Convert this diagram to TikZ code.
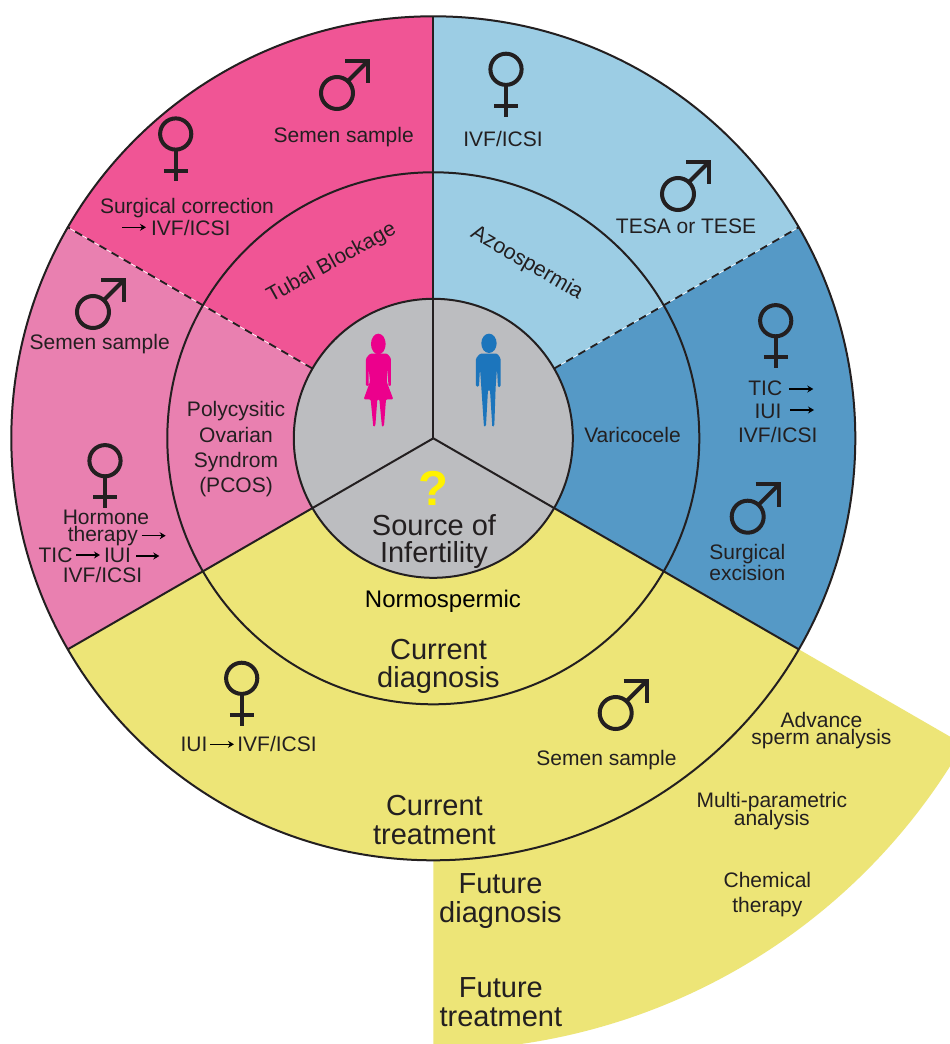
\documentclass[tikz,border=0pt]{standalone}
\usepackage{fontspec}
\setmainfont{Liberation Sans}
\usetikzlibrary{arrows.meta}
\definecolor{ink}{HTML}{231F20}
\definecolor{hotpink}{HTML}{F05595}
\definecolor{softpink}{HTML}{E980B0}
\definecolor{paleblue}{HTML}{9CCDE4}
\definecolor{midblue}{HTML}{5599C6}
\definecolor{sand}{HTML}{EDE577}
\definecolor{core}{HTML}{BCBDC0}
\definecolor{qmark}{HTML}{FFF200}
\definecolor{womanc}{HTML}{EC008C}
\definecolor{manc}{HTML}{1C75BC}
\newcommand{\fs}[2]{\fontsize{#1}{#2}\selectfont\lineskiplimit=-100pt\relax}
\newcommand{\txtarrow}[4]{\coordinate (#1s) at (#2,#4);\coordinate (#1e) at (#3,#4);\draw[textarrow] (#1s) -- (#1e);}
\tikzset{
  ring/.style={draw=ink,line width=2pt},
  divider/.style={draw=ink,line width=2pt},
  dashline/.style={draw=ink,line width=1.8pt,dash pattern=on 8pt off 6pt},
  dashglow/.style={draw=white,line width=.7pt},
  lab/.style={font=\fs{21}{25},text=ink,inner sep=0pt,anchor=base,align=center},
  big/.style={font=\fs{29}{28.4},text=ink,inner sep=0pt,anchor=base,align=center},
  textarrow/.style={draw=black,line width=1.5pt,-{Stealth[length=6pt,width=7pt,inset=2pt]}},
  femalesym/.pic={
    \draw[ink,line width=4pt] (0,0) circle[radius=15.6pt];
    \draw[ink,line width=4pt] (0,15.6) -- (0,47.4) (-11.8,36.7) -- (11.8,36.7);
  },
  malesym/.pic={
    \draw[ink,line width=4pt] (0,0) circle[radius=16pt];
    \draw[ink,line width=4pt] (11,-12) -- (31,-32);
    \draw[ink,line width=4pt,miter limit=10] (8,-32.3) -- (31.2,-32.3) -- (31.2,-10);
  }
}
\begin{document}
\begin{tikzpicture}[x=1pt,y=-1pt]
\clip (0,0) rectangle (950,1044);
\fill[white] (0,0) rectangle (950,1044);
\coordinate (mid) at (433.3,438.3);
% sectors
\begin{scope}[shift={(mid)},x=1pt,y=1pt]
  \fill[sand] (0,0) -- (-30:612) arc[start angle=-30,end angle=-90,radius=612] -- cycle;
  \fill[paleblue] (0,0) -- (90:422) arc[start angle=90,end angle=30,radius=422] -- cycle;
  \fill[midblue] (0,0) -- (30:422) arc[start angle=30,end angle=-30,radius=422] -- cycle;
  \fill[sand] (0,0) -- (-30:422) arc[start angle=-30,end angle=-150,radius=422] -- cycle;
  \fill[softpink] (0,0) -- (210:422) arc[start angle=210,end angle=150,radius=422] -- cycle;
  \fill[hotpink] (0,0) -- (150:422) arc[start angle=150,end angle=90,radius=422] -- cycle;
  \draw[dashglow] (150:139.5) -- (150:422) (30:139.5) -- (30:422);
  \draw[dashline] (150:139.5) -- (150:422);
  \draw[dashline] (30:139.5) -- (30:422);
  \draw[divider] (90:139.5) -- (90:422);
  \draw[divider] (210:139.5) -- (210:422);
  \draw[divider] (-30:139.5) -- (-30:422);
  \draw[ring] (0,0) circle[radius=422];
  \draw[ring] (0,0) circle[radius=266];
  \draw[ring,fill=core] (0,0) circle[radius=139.5];
  \draw[divider] (0,0) -- (90:139.5);
  \draw[divider] (0,0) -- (210:139.5);
  \draw[divider] (0,0) -- (-30:139.5);
\end{scope}
% people
\begin{scope}[shift={(290,300)},x=.3333pt,y=-.3333pt]
  \fill[womanc] (265,132) ellipse[x radius=22,y radius=31];
  \fill[womanc,rounded corners=1.2pt] (240,161) -- (292,161) -- (303,175) -- (303,258) -- (295,258) -- (294,205) -- (290,245) -- (310,298) -- (288,298) -- (282,378) -- (276,381) -- (268,298) -- (262,298) -- (256,378) -- (250,381) -- (242,298) -- (221,298) -- (240,245) -- (236,205) -- (236,258) -- (228,258) -- (228,175) -- cycle;
  \fill[manc] (597,130) ellipse[x radius=23,y radius=29];
  \fill[manc,rounded corners=1.2pt] (570,161) -- (622,161) -- (632,175) -- (632,260) -- (624,262) -- (621,205) -- (617,262) -- (613,378) -- (607,381) -- (600,270) -- (594,270) -- (588,378) -- (582,381) -- (574,262) -- (570,205) -- (567,260) -- (558,260) -- (558,175) -- cycle;
\end{scope}
% symbols
\pic at (105,460.7) {femalesym};
\pic at (175.7,134) {femalesym};
\pic at (506,69.3) {femalesym};
\pic at (775.7,320.7) {femalesym};
\pic at (241.7,678.3) {femalesym};
\pic at (337,93) {malesym};
\pic at (678,194) {malesym};
\pic at (747.7,516.7) {malesym};
\pic at (93,312) {malesym};
\pic at (615.7,713) {malesym};
% core
\node[inner sep=0pt,anchor=base,text=qmark,font=\fs{49}{49}\bfseries] (qm) at (433.7,505) {?};
\node[big,font=\fs{29}{27}] (source) at (434,562) {Source of\\Infertility};
% ring labels
\node[lab,rotate=29,anchor=center] (tubal) at (331.7,263.3) {Tubal Blockage};
\node[lab,rotate=-30,anchor=center,font=\fs{21.5}{25}] (azoo) at (526.7,263.3) {Azoospermia};
\node[lab,font=\fs{21}{25.3}] (pcos) at (236,492.7) {Polycysitic\\Ovarian\\Syndrom\\(PCOS)};
\node[lab] (vari) at (632.5,442) {Varicocele};
\node[lab,font=\fs{24}{25},text=black] (normo) at (443,607.3) {Normospermic};
\node[big] (curdiag) at (438.5,687.5) {Current\\diagnosis};
\node[big] (curtreat) at (434.4,844) {Current\\treatment};
% outer labels
\node[lab] (s1) at (343.7,142) {Semen sample};
\node[lab] (surg) at (187,213) {Surgical correction};
\node[lab] (i1) at (190.8,235) {IVF/ICSI};
\txtarrow{a1}{122.3}{146}{227.3}
\node[lab] (i2) at (503,146) {IVF/ICSI};
\node[lab] (tesa) at (686,233.5) {TESA or TESE};
\node[lab] (t2) at (765.3,395) {TIC};
\txtarrow{a2}{789.3}{813.3}{389}
\node[lab] (u2) at (768,418.3) {IUI};
\txtarrow{a3}{790}{814}{410}
\node[lab] (i3) at (777.8,442.3) {IVF/ICSI};
\node[lab,font=\fs{21}{20.7}] (exc) at (747.3,580) {Surgical\\excision};
\node[lab] (s2) at (99.7,349) {Semen sample};
\node[lab] (horm) at (106,524) {Hormone};
\node[lab] (ther) at (102.8,541) {therapy};
\txtarrow{a4}{141.7}{165.7}{535.7}
\node[lab] (t4) at (55.5,562.3) {TIC};
\txtarrow{a5}{76}{100}{555}
\node[lab] (u4) at (117.5,562.3) {IUI};
\txtarrow{a6}{136}{159.3}{556}
\node[lab] (i4) at (102.5,582.7) {IVF/ICSI};
\node[lab] (u5) at (194,751.7) {IUI};
\txtarrow{a7}{210}{234}{744.3}
\node[lab] (i5) at (277,751.7) {IVF/ICSI};
\node[lab] (s3) at (606.5,765.5) {Semen sample};
% future
\node[lab,font=\fs{21}{17.3}] (adv) at (821.5,744.5) {Advance\\sperm analysis};
\node[lab,font=\fs{21}{18.3}] (multi) at (771.8,825.5) {Multi-parametric\\analysis};
\node[lab,font=\fs{21}{25}] (chem) at (767.4,912.5) {Chemical\\therapy};
\node[big] (futdiag) at (500.5,922) {Future\\diagnosis};
\node[big] (futtreat) at (500.9,1026) {Future\\treatment};
\end{tikzpicture}
\end{document}
